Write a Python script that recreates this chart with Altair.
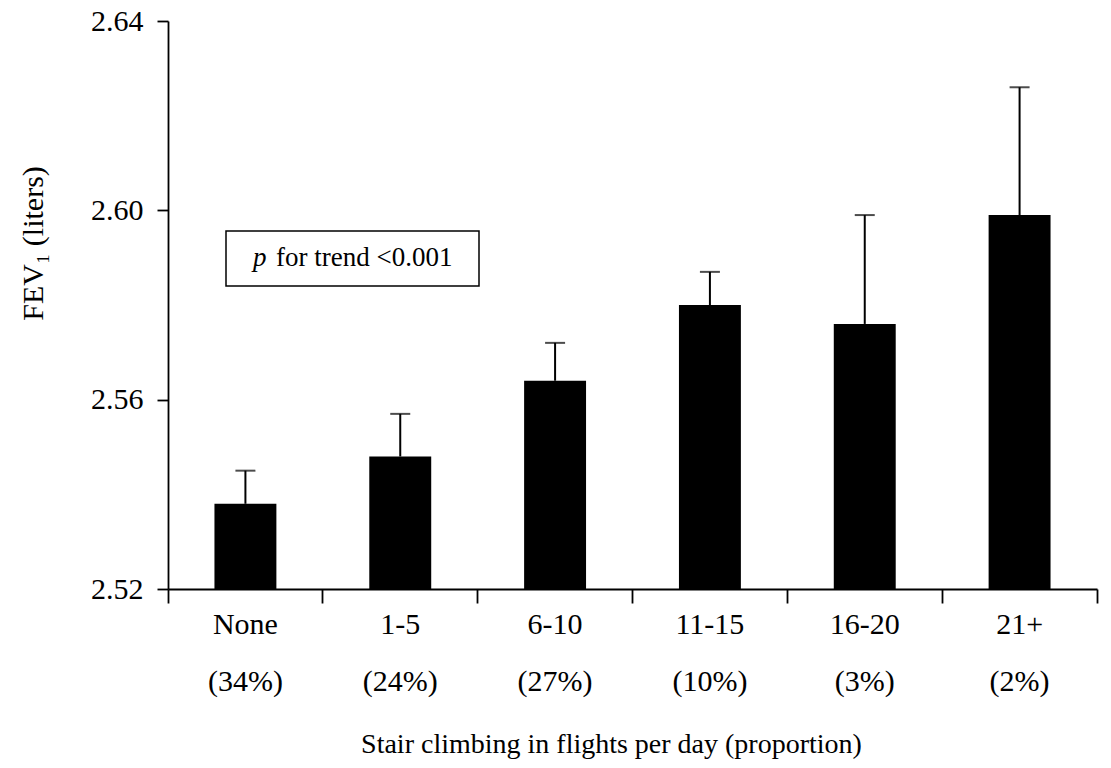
import altair as alt
import pandas as pd

categories = ["None", "1-5", "6-10", "11-15", "16-20", "21+"]
proportions = ["(34%)", "(24%)", "(27%)", "(10%)", "(3%)", "(2%)"]
fev1_mean = [2.538, 2.548, 2.564, 2.580, 2.576, 2.599]
fev1_upper = [2.545, 2.557, 2.572, 2.587, 2.599, 2.626]
y_ticks = [2.52, 2.56, 2.60, 2.64]

df = pd.DataFrame({
    "label": [f"{c}|{p}" for c, p in zip(categories, proportions)],
    "mean": fev1_mean,
    "upper": fev1_upper,
})

FONT = "Liberation Serif"

x_enc = alt.X(
    "label:N",
    sort=None,
    scale=alt.Scale(paddingInner=0, paddingOuter=0),
    axis=alt.Axis(
        title="Stair climbing in flights per day (proportion)",
        labelExpr="isValid(datum.value) ? split(datum.value, '|') : ''",
        labelAngle=0,
        bandPosition=1,
        tickExtra=True,
        tickSize=14,
        labelPadding=6,
        labelLineHeight=57,
        labelFont=FONT,
        labelFontSize=30,
        titleFont=FONT,
        titleFontSize=28,
        titleFontWeight="normal",
        titleX=443,
        titleY=163,
        titleBaseline="alphabetic",
        titleAlign="center",
    ),
)

y_axis = alt.Axis(
    values=y_ticks,
    format=".2f",
    title="FEV₁ (liters)",
    tickSize=11,
    labelPadding=14,
    labelFont=FONT,
    labelFontSize=30,
    titleFont=FONT,
    titleFontSize=30,
    titleFontWeight="normal",
    titleAngle=270,
    titleX=-126,
    titleY=222,
    titleBaseline="alphabetic",
    titleAlign="center",
    grid=False,
)
y_scale = alt.Scale(domain=[2.52, 2.64], nice=False, zero=False)

base = alt.Chart(df).encode(x=x_enc)

err_line = base.mark_rule(color="black", strokeWidth=2).encode(
    y=alt.Y("mean:Q", scale=y_scale, axis=y_axis),
    y2="upper:Q",
)
err_cap = base.mark_tick(color="black", size=20, thickness=2).encode(
    y=alt.Y("upper:Q", scale=y_scale, axis=y_axis),
)
bars = base.mark_bar(color="black", width=alt.RelativeBandSize(0.4)).encode(
    y=alt.Y("mean:Q", scale=y_scale, axis=y_axis),
    y2=alt.datum(y_ticks[0]),
)

note = pd.DataFrame({"n": [0]})
box = alt.Chart(note).mark_rect(fill="white", stroke="black", strokeWidth=1.5).encode(
    x=alt.value(58), x2=alt.value(311), y=alt.value(210), y2=alt.value(265)
)
p_txt = alt.Chart(note).mark_text(
    font=FONT, fontSize=27, fontStyle="italic", align="left", baseline="middle", color="black"
).encode(x=alt.value(85), y=alt.value(237), text=alt.value("p"))
rest_txt = alt.Chart(note).mark_text(
    font=FONT, fontSize=27, align="left", baseline="middle", color="black"
).encode(x=alt.value(108), y=alt.value(237), text=alt.value("for trend <0.001"))

chart = (
    alt.layer(err_line, err_cap, bars, box, p_txt, rest_txt)
    .properties(
        width=929,
        height=568,
        padding={"left": 160, "top": 13, "right": 6, "bottom": 179},
        autosize="none",
    )
    .configure_view(stroke=None)
    .configure_axis(
        domainColor="black",
        domainWidth=1.8,
        tickColor="black",
        tickWidth=1.8,
        labelColor="black",
        titleColor="black",
    )
)

chart.save("out.html", embed_options={"renderer": "svg", "actions": False})
